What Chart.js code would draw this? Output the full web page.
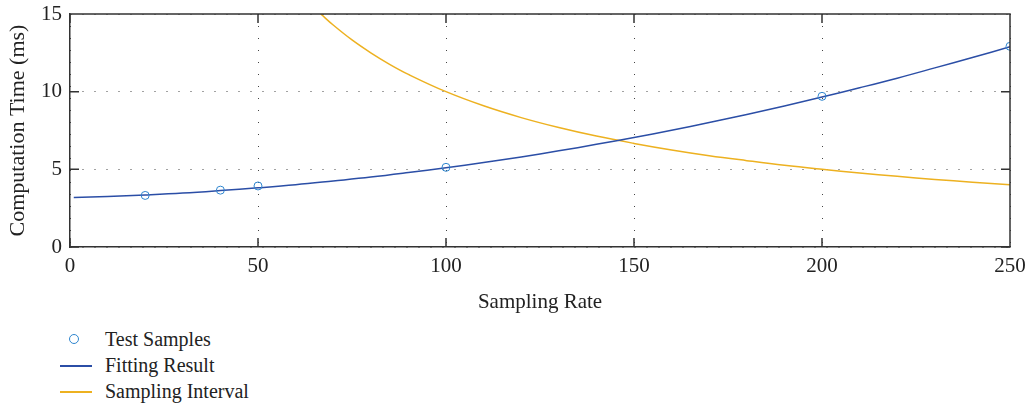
<!DOCTYPE html>
<html>
<head>
<meta charset="utf-8">
<script src="https://cdn.jsdelivr.net/npm/chart.js@4/dist/chart.umd.min.js"></script>
<style>
    html, body { margin: 0; padding: 0; background: #fff; overflow: hidden; }
    #wrap { position: relative; width: 1028px; height: 407px; }
    #chart-box { position: absolute; left: 0; top: 0; width: 1028px; height: 320px; }
    #legend { position: absolute; left: 60px; top: 326px; font-family: "Liberation Serif", serif; font-size: 20px; color: #222; }
    #legend .row { display: flex; align-items: center; height: 26px; }
    #legend .key { width: 32px; height: 26px; position: relative; margin-right: 13px; }
    #legend .line { position: absolute; left: 0; right: 0; top: 13px; height: 2px; }
    #legend .dot { position: absolute; left: 9px; top: 8px; width: 8px; height: 8px; border: 1.5px solid; border-radius: 50%; }
</style>
</head>
<body>
<div id="wrap">
    <div id="chart-box"><canvas id="timeChart" width="1028" height="320"></canvas></div>
    <div id="legend"></div>
</div>
<script>
// Measured test samples
const sampleRates = [20, 40, 50, 100, 200, 250];
const sampleTimes = [3.32, 3.66, 3.93, 5.13, 9.7, 12.92];

// Fitted curve through the samples
const fitRates = [1, 10, 20, 30, 40, 50, 60, 70, 80, 90, 100, 110, 120, 130, 140, 150, 160, 170, 180, 190, 200, 210, 220, 230, 240, 250];
const fitTimes = [3.18, 3.25, 3.35, 3.47, 3.63, 3.81, 4.01, 4.25, 4.5, 4.79, 5.1, 5.44, 5.8, 6.19, 6.61, 7.05, 7.52, 8.01, 8.53, 9.08, 9.65, 10.25, 10.87, 11.53, 12.2, 12.89];

// Sampling interval for each rate
const intervalRates = [66.7, 70, 75, 80, 85, 90, 100, 110, 120, 130, 140, 150, 160, 170, 180, 190, 200, 210, 220, 230, 240, 250];
const intervalTimes = [15, 14.29, 13.33, 12.5, 11.76, 11.11, 10, 9.09, 8.33, 7.69, 7.14, 6.67, 6.25, 5.88, 5.56, 5.26, 5, 4.76, 4.55, 4.35, 4.17, 4];

const xTicks = { min: 0, max: 250, step: 50 };
const yTicks = { min: 0, max: 15, step: 5 };

const axisColor = '#333';
const serif = '"Liberation Serif", "DejaVu Serif", serif';

const pairs = (xs, ys) => xs.map((x, i) => ({ x: x, y: ys[i] }));

// Closes the box and adds inward tick marks on all four sides
const framePlugin = {
    id: 'frame',
    afterDatasetsDraw(chart) {
        const { ctx, chartArea: a, scales } = chart;
        const len = 9;
        ctx.save();
        ctx.strokeStyle = axisColor;
        ctx.lineWidth = 1.5;
        ctx.beginPath();
        ctx.moveTo(a.left, a.top);
        ctx.lineTo(a.right, a.top);
        ctx.lineTo(a.right, a.bottom);
        scales.x.ticks.forEach(t => {
            const px = scales.x.getPixelForValue(t.value);
            ctx.moveTo(px, a.bottom);
            ctx.lineTo(px, a.bottom - len);
            ctx.moveTo(px, a.top);
            ctx.lineTo(px, a.top + len);
        });
        scales.y.ticks.forEach(t => {
            const py = scales.y.getPixelForValue(t.value);
            ctx.moveTo(a.left, py);
            ctx.lineTo(a.left + len, py);
            ctx.moveTo(a.right, py);
            ctx.lineTo(a.right - len, py);
        });
        ctx.stroke();
        ctx.restore();
    }
};

const chart = new Chart(document.getElementById('timeChart').getContext('2d'), {
    type: 'scatter',
    data: {
        datasets: [
            {
                label: 'Test Samples',
                data: pairs(sampleRates, sampleTimes),
                showLine: false,
                pointStyle: 'circle',
                pointRadius: 4,
                pointBorderWidth: 1,
                borderColor: '#2f86cf',
                backgroundColor: 'rgba(0,0,0,0)',
                order: 0
            },
            {
                label: 'Fitting Result',
                data: pairs(fitRates, fitTimes),
                showLine: true,
                pointRadius: 0,
                borderColor: '#2b4ea6',
                borderWidth: 1.5,
                tension: 0.4,
                order: 1
            },
            {
                label: 'Sampling Interval',
                data: pairs(intervalRates, intervalTimes),
                showLine: true,
                pointRadius: 0,
                borderColor: '#edb120',
                borderWidth: 1.5,
                tension: 0.4,
                order: 2
            }
        ]
    },
    options: {
        responsive: false,
        animation: false,
        layout: { padding: { top: 14, right: 18, left: 0, bottom: 0 } },
        plugins: {
            legend: { display: false },
            tooltip: { enabled: false }
        },
        scales: {
            x: {
                type: 'linear',
                min: xTicks.min,
                max: xTicks.max,
                // fixed axis band; label overflow is left to the layout padding
                afterFit: s => { s.height = 73; s.paddingLeft = 0; s.paddingRight = 0; },
                ticks: { stepSize: xTicks.step, color: '#222', padding: 7, font: { family: serif, size: 21 } },
                grid: { color: '#444', lineWidth: 1, drawTicks: false },
                border: { color: axisColor, width: 1.5, dash: [1, 11] },
                title: { display: true, text: 'Sampling Rate', color: '#222', padding: { bottom: 5 }, font: { family: serif, size: 21 } }
            },
            y: {
                min: yTicks.min,
                max: yTicks.max,
                afterFit: s => { s.width = 70; s.paddingTop = 0; s.paddingBottom = 0; },
                ticks: { stepSize: yTicks.step, color: '#222', padding: 8, font: { family: serif, size: 21 } },
                grid: { color: '#444', lineWidth: 1, drawTicks: false },
                border: { color: axisColor, width: 1.5, dash: [1, 11] },
                title: { display: true, text: 'Computation Time (ms)', color: '#222', padding: { top: 5 }, font: { family: serif, size: 22 } }
            }
        }
    },
    plugins: [framePlugin]
});

// Legend built from the chart's own datasets
document.getElementById('legend').innerHTML = chart.data.datasets.map(ds => `
    <div class="row">
        <div class="key">${ds.showLine
            ? `<div class="line" style="background:${ds.borderColor}"></div>`
            : `<div class="dot" style="border-color:${ds.borderColor}"></div>`}</div>
        <span>${ds.label}</span>
    </div>
`).join('');
</script>
</body>
</html>
